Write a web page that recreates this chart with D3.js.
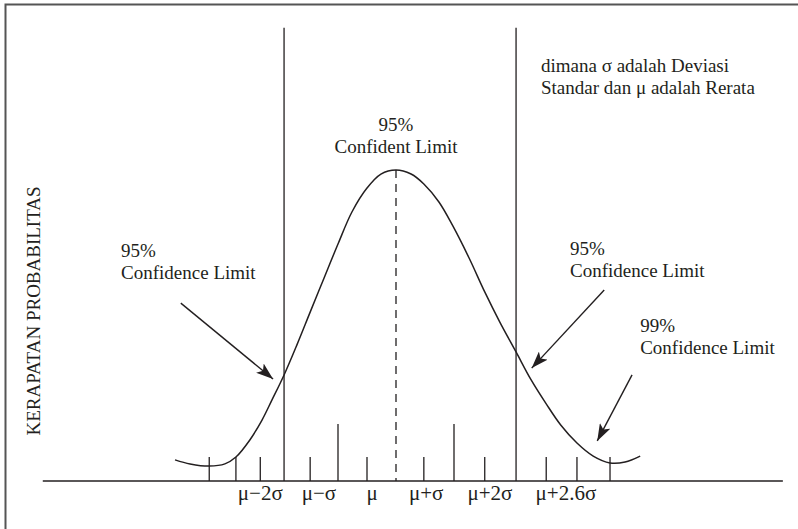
<!DOCTYPE html>
<html><head><meta charset="utf-8">
<script src="https://cdn.jsdelivr.net/npm/d3@7"></script>
<style>
html,body{margin:0;padding:0;background:#fff;}
svg{display:block;}
text{font-family:"Liberation Serif","DejaVu Serif",serif;fill:#231f20;}
</style></head>
<body>
<script>
// ---- data (x in sigma units from the mean, y = relative density) ----
const curveX = [-3.81,-3.55,-3.22,-2.95,-2.76,-2.52,-2.31,-2.14,-1.93,-1.71,-1.48,-1.24,-1.00,-0.76,-0.50,-0.26,0,0.26,0.48,0.74,0.98,1.26,1.53,1.79,2.07,2.33,2.59,2.84,3.12,3.40,3.69,3.95,4.21];
const curveY = [0.068,0.055,0.048,0.055,0.077,0.132,0.196,0.260,0.341,0.437,0.543,0.653,0.762,0.865,0.942,0.987,1.0,0.987,0.955,0.897,0.820,0.717,0.608,0.511,0.415,0.325,0.248,0.180,0.122,0.080,0.058,0.061,0.080];
const shortTicks = [-3.22,-2.76,-2.34,-1.48,-0.5,0.48,1.53,2.59,3.12,3.69];
const tallTicks = [-1, 1];
const limitLines = [-1.93, 2.07];
const meanLine = 0;
const tickLabels = ["μ−2σ","μ−σ","μ","μ+σ","μ+2σ","μ+2.6σ"];
const tickLabelPos = [-2.34,-1.33,-0.41,0.52,1.62,2.93];
const yLabel = "KERAPATAN PROBABILITAS";
const annotations = [
  {lines:["95%","Confidence Limit"], x:-4.74, y:0.720, anchor:"start"},
  {lines:["95%","Confident Limit"], x:0, y:1.125, anchor:"middle"},
  {lines:["95%","Confidence Limit"], x:3.0, y:0.727, anchor:"start"},
  {lines:["99%","Confidence Limit"], x:4.21, y:0.479, anchor:"start"},
  {lines:["dimana σ adalah Deviasi","Standar dan μ adalah Rerata"], x:2.5, y:1.315, anchor:"start"}
];
const arrows = [
  {x1:-3.71, y1:0.572, x2:-2.12, y2:0.328},
  {x1:3.59, y1:0.614, x2:2.34, y2:0.363},
  {x1:4.07, y1:0.341, x2:3.47, y2:0.129}
];

const W = 798, H = 529;
const svg = d3.select("body").append("svg").attr("width", W).attr("height", H);
const x = d3.scaleLinear().domain([0, 1]).range([396, 454]);
const y = d3.scaleLinear().domain([0, 1]).range([481, 170]);
const ink = "#231f20";

// frame (left + top)
svg.append("path").attr("d", `M5.5,${H} V4.5 H${W}`).attr("fill","none").attr("stroke","#555").attr("stroke-width",2);

// baseline
svg.append("line").attr("x1", x(-6.09)).attr("x2", x(6.67)).attr("y1", y(0)).attr("y2", y(0))
  .attr("stroke", ink).attr("stroke-width", 1.4);

// short ticks
svg.selectAll(".st").data(shortTicks).join("line")
  .attr("x1", d => x(d)).attr("x2", d => x(d)).attr("y1", y(0)).attr("y2", y(0.077))
  .attr("stroke", ink).attr("stroke-width", 1.3);
// tall ticks
svg.selectAll(".tt").data(tallTicks).join("line")
  .attr("x1", d => x(d)).attr("x2", d => x(d)).attr("y1", y(0)).attr("y2", y(0.183))
  .attr("stroke", ink).attr("stroke-width", 1.3);
// confidence lines
svg.selectAll(".cl").data(limitLines).join("line")
  .attr("x1", d => x(d)).attr("x2", d => x(d)).attr("y1", y(0)).attr("y2", y(1.457))
  .attr("stroke", ink).attr("stroke-width", 1.3);
// mean dashed line
svg.append("line").attr("x1", x(meanLine)).attr("x2", x(meanLine)).attr("y1", y(1)).attr("y2", y(0))
  .attr("stroke", ink).attr("stroke-width", 1.3).attr("stroke-dasharray", "8,6");

// curve
const pts = curveX.map((v, i) => [v, curveY[i]]);
svg.append("path").datum(pts)
  .attr("d", d3.line().x(d => x(d[0])).y(d => y(d[1])).curve(d3.curveCatmullRom))
  .attr("fill", "none").attr("stroke", ink).attr("stroke-width", 1.5);

// tick labels
svg.selectAll(".tl").data(tickLabels).join("text")
  .attr("x", (d, i) => x(tickLabelPos[i])).attr("y", 500)
  .attr("text-anchor", "middle").attr("font-size", 21).text(d => d);

// y label
svg.append("text").attr("transform", `translate(40,${311}) rotate(-90)`)
  .attr("text-anchor", "middle").attr("font-size", 19).text(yLabel);

// annotations
annotations.forEach(a => {
  const t = svg.append("text").attr("x", x(a.x)).attr("y", y(a.y))
    .attr("text-anchor", a.anchor).attr("font-size", 19);
  a.lines.forEach((l, i) => t.append("tspan").attr("x", x(a.x)).attr("dy", i ? 22 : 0).text(l));
});

// arrows
svg.append("defs").append("marker").attr("id", "ah")
  .attr("viewBox", "0 0 17 12").attr("refX", 17).attr("refY", 6)
  .attr("markerWidth", 17).attr("markerHeight", 12).attr("markerUnits", "userSpaceOnUse")
  .attr("orient", "auto")
  .append("path").attr("d", "M0,0 L17,6 L0,12 L4,6 Z").attr("fill", ink);
svg.selectAll(".ar").data(arrows).join("line")
  .attr("x1", d => x(d.x1)).attr("y1", d => y(d.y1)).attr("x2", d => x(d.x2)).attr("y2", d => y(d.y2))
  .attr("stroke", ink).attr("stroke-width", 1.4).attr("marker-end", "url(#ah)");
</script>
</body></html>
